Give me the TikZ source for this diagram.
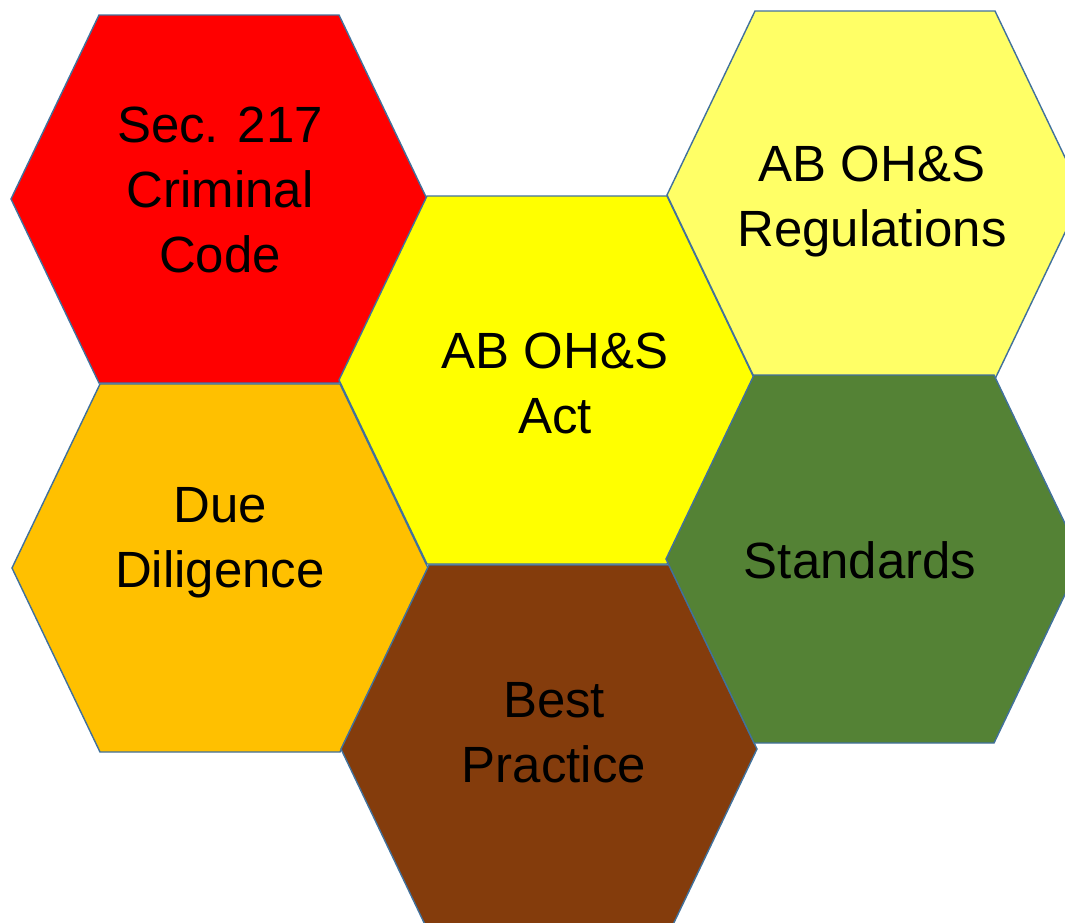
\documentclass[tikz,border=0pt]{standalone}
\usepackage{fontspec}
\setmainfont{Liberation Sans}
\begin{document}
\begin{tikzpicture}
[
  x=0.02cm, y=-0.02cm,
	cell/.style={line width=0.8pt,draw={rgb,255:red,65;green,113;blue,156}},
	crim/.style={cell,fill={rgb,255:red,255;green,0;blue,0}},
	act/.style={cell,fill={rgb,255:red,255;green,255;blue,0}},
	regs/.style={cell,fill={rgb,255:red,255;green,255;blue,102}},
	dd/.style={cell,fill={rgb,255:red,255;green,192;blue,0}},
	std/.style={cell,fill={rgb,255:red,84;green,130;blue,53}},
	bp/.style={cell,fill={rgb,255:red,132;green,60;blue,12}},
	lbl/.style={align=center,font=\fontsize{29}{37}\selectfont,text=black}
]
\useasboundingbox (0,0) rectangle (1065,923);

\draw[crim] (219,199) ++(-208,0) -- ++(88,-184) -- ++(240,0) -- ++(88,184) -- ++(-88,184) -- ++(-240,0) -- cycle;
\draw[dd] (220,568) ++(-208,0) -- ++(88,-184) -- ++(240,0) -- ++(88,184) -- ++(-88,184) -- ++(-240,0) -- cycle;
\draw[act] (547,380) ++(-208,0) -- ++(88,-184) -- ++(240,0) -- ++(88,184) -- ++(-88,184) -- ++(-240,0) -- cycle;
\draw[bp] (549,749) ++(-208,0) -- ++(88,-184) -- ++(240,0) -- ++(88,184) -- ++(-88,184) -- ++(-240,0) -- cycle;
\draw[regs] (875,195) ++(-208,0) -- ++(88,-184) -- ++(240,0) -- ++(88,184) -- ++(-88,184) -- ++(-240,0) -- cycle;
\draw[std] (874,559) ++(-208,0) -- ++(88,-184) -- ++(240,0) -- ++(88,184) -- ++(-88,184) -- ++(-240,0) -- cycle;

\node[lbl](crimtext) at (220,190) {Sec. 217\\Criminal\\Code};
\node[lbl](acttext) at (555,383) {AB OH\&S\\Act};
\node[lbl](regstext) at (872,201) {AB OH\&S\\Regulations};
\node[lbl](ddtext) at (220,543) {Due\\Diligence};
\node[lbl](stdtext) at (860,560) {Standards};
\node[lbl](bptext) at (554,733) {Best\\Practice};

\end{tikzpicture}
\end{document}
